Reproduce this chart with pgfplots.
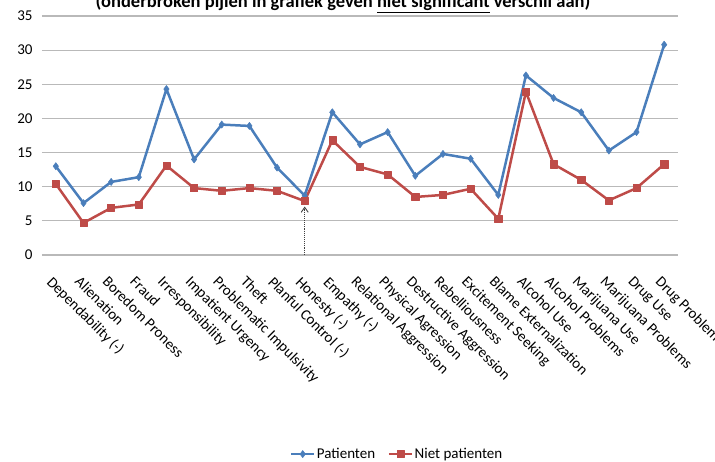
\documentclass[border=0pt]{standalone}
\usepackage{fontspec}
\setmainfont{Carlito}
\usepackage{pgfplots}
\pgfplotsset{compat=1.18}
\usetikzlibrary{arrows.meta}
\definecolor{pblue}{RGB}{74,126,187}
\definecolor{pred}{RGB}{190,75,72}
\definecolor{gridgray}{RGB}{185,185,185}
\begin{document}
\begin{tikzpicture}
\begin{axis}[
  at={(42pt,206pt)}, anchor=south west,
  scale only axis, width=636pt, height=239pt,
  xmin=-0.5, xmax=22.5, ymin=0, ymax=35,
  ytick={0,5,...,35},
  xtick={0,...,22},
  xticklabels={Dependability (-),Alienation,Boredom Proness,Fraud,Irresponsibility,Impatient Urgency,Problematic Impulsivity,Theft,Planful Control (-),Honesty (-),Empathy (-),Relational Aggression,Physical Agression,Destructive Aggression,Rebelliousness,Excitement Seeking,Blame Externalization,Alcohol Use,Alcohol Problems,Marijuana Use,Marijuana Problems,Drug Use,Drug Problems},
  ymajorgrids, major grid style={gridgray, line width=1.2pt},
  axis line style={draw=none},
  major tick length=0pt,
  tick label style={font=\fontsize{15}{18}\selectfont},
  /pgf/number format/assume math mode=true,
  yticklabel style={xshift=-6pt},
  xticklabel style={anchor=north west, xshift=-2pt, yshift=-20pt, rotate=-45, inner sep=0pt},
  legend style={at={(0.558,-0.833)}, anchor=center, draw=none, fill=none, legend columns=2,
    font=\fontsize{15}{18}\selectfont, inner sep=0pt, nodes={inner sep=1.5pt},
    /tikz/every even column/.append style={column sep=11pt}},
  legend image code/.code={\draw[mark repeat=2,mark phase=2,#1] plot coordinates {(0pt,0pt) (11.5pt,0pt) (23pt,0pt)};},
  clip=false,
]
\addplot[pblue, line width=2.5pt, line join=round, mark=diamond*, mark size=3.6pt,
  mark options={fill=pblue, draw=pblue, line width=0.5pt}] coordinates {
(0,13.0) (1,7.6) (2,10.7) (3,11.4) (4,24.3) (5,14.0) (6,19.1) (7,18.9) (8,12.8) (9,8.7)
(10,20.9) (11,16.2) (12,18.0) (13,11.6) (14,14.8) (15,14.1) (16,8.8) (17,26.3) (18,23.0)
(19,20.9) (20,15.3) (21,18.0) (22,30.8)};
\addlegendentry{Patienten}
\addplot[pred, line width=2.5pt, line join=round, mark=square*, mark size=3.6pt,
  mark options={fill=pred, draw=pred, line width=0.5pt}] coordinates {
(0,10.4) (1,4.7) (2,6.9) (3,7.4) (4,13.1) (5,9.8) (6,9.4) (7,9.8) (8,9.4) (9,7.9)
(10,16.8) (11,12.9) (12,11.8) (13,8.5) (14,8.8) (15,9.7) (16,5.3) (17,23.9) (18,13.3)
(19,11.0) (20,8.0) (21,9.8) (22,13.3)};
\addlegendentry{Niet patienten}
\draw[densely dotted, line width=0.9pt, black!75, -{Straight Barb[length=5pt,width=7pt]}] (axis cs:9,0) -- (axis cs:9,7.1);
\end{axis}
\node[anchor=base, font=\bfseries\fontsize{18.5}{22}\selectfont] at (343pt,453.5pt) {(onderbroken pijlen in grafiek geven \underline{niet significant} verschil aan)};
\pgfresetboundingbox
\useasboundingbox (0pt,0pt) rectangle (715pt,461pt);
\end{tikzpicture}
\end{document}
